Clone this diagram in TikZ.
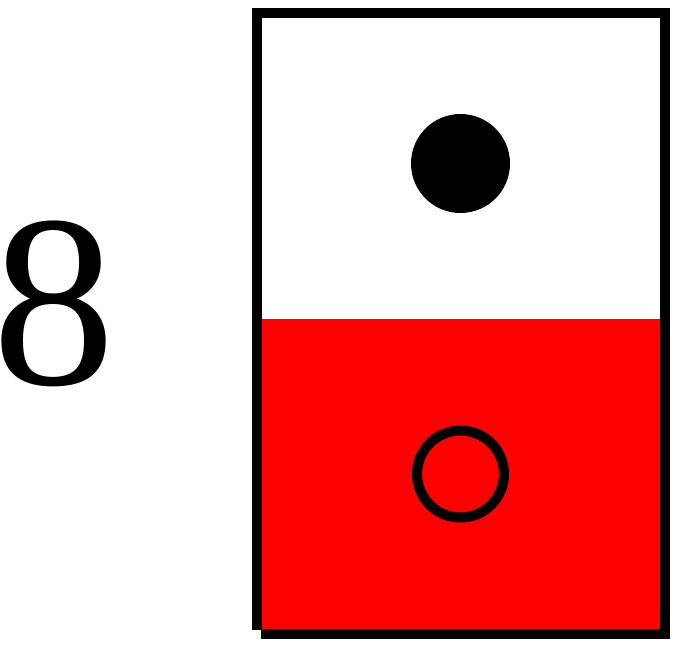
\documentclass[tikz,border=0pt]{standalone}
\usepackage{fontspec}
\setmainfont{Liberation Serif}
\usepackage{xcolor}
\usetikzlibrary{positioning}
\definecolor{cellred}{RGB}{255,0,0}

\begin{document}
\begin{tikzpicture}[
    x=1pt, y=-1pt,
    frameline/.style={line width=10pt, line cap=butt},
    digit/.style={inner sep=0pt, anchor=base, font=\fontsize{246}{246}\selectfont},
    dot/.style={circle, fill=black, inner sep=0pt, minimum size=99pt},
    ring/.style={circle, draw=black, line width=10pt, inner sep=0pt, minimum size=87pt},
]
    \useasboundingbox (0,0) rectangle (687,648);

    % Label
    \node[digit] (num) at (54.5,384) {8};

    % Lower half
    \fill[cellred] (261,319) rectangle (660,629);

    % Frame
    \coordinate (tl) at (252,13);
    \coordinate (tr) at (670,13);
    \coordinate (rt) at (665,8);
    \coordinate (rb) at (665,639);
    \coordinate (bl) at (261,634);
    \coordinate (br) at (670,634);
    \coordinate (lt) at (257,8);
    \coordinate (lb) at (257,630);
    \draw[frameline] (tl) -- (tr);
    \draw[frameline] (rt) -- (rb);
    \draw[frameline] (bl) -- (br);
    \draw[frameline] (lt) -- (lb);

    % Markers
    \node[dot] (upper) at (460.5,163.5) {};
    \node[ring] (lower) at (460.5,474) {};
\end{tikzpicture}
\end{document}
